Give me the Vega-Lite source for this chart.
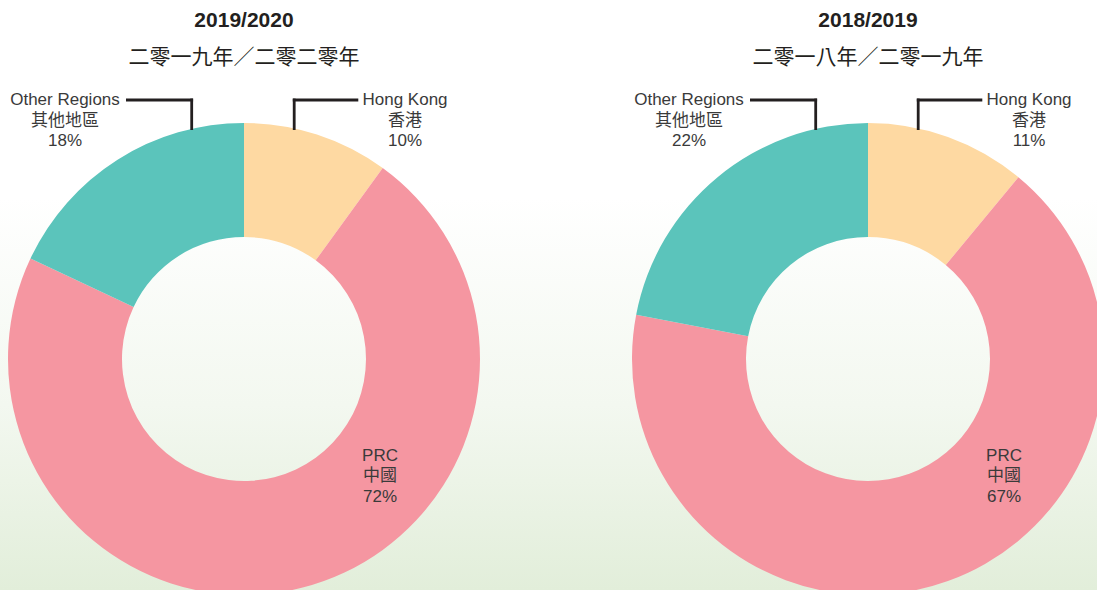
{
  "$schema": "https://vega.github.io/schema/vega-lite/v6.json",
  "autosize": "none",
  "width": 1097,
  "height": 462,
  "padding": {"left": 0, "right": 0, "top": 128, "bottom": 0},
  "background": "#ffffff",
  "config": {"view": {"stroke": null}, "text": {"font": "Liberation Sans, Noto Sans CJK TC", "align": "center", "baseline": "middle"}},
  "datasets": {
    "slices": [
      {"year": "2019/2020", "region": "Hong Kong", "region_zh": "香港", "share": 0.10, "order": 1},
      {"year": "2019/2020", "region": "PRC", "region_zh": "中國", "share": 0.72, "order": 2},
      {"year": "2019/2020", "region": "Other Regions", "region_zh": "其他地區", "share": 0.18, "order": 3},
      {"year": "2018/2019", "region": "Hong Kong", "region_zh": "香港", "share": 0.11, "order": 1},
      {"year": "2018/2019", "region": "PRC", "region_zh": "中國", "share": 0.67, "order": 2},
      {"year": "2018/2019", "region": "Other Regions", "region_zh": "其他地區", "share": 0.22, "order": 3}
    ],
    "years": [
      {"year": "2019/2020", "year_zh": "二零一九年／二零二零年"},
      {"year": "2018/2019", "year_zh": "二零一八年／二零一九年"}
    ]
  },
  "layer": [
    {
      "data": {"values": [{}]},
      "mark": {"type": "rect", "fill": {"gradient": "linear", "x1": 0, "y1": 0, "x2": 0, "y2": 1, "stops": [{"offset": 0, "color": "#ffffff"}, {"offset": 0.15, "color": "#ffffff"}, {"offset": 0.6, "color": "#f3f8f0"}, {"offset": 1, "color": "#e2eeda"}]}},
      "encoding": {}
    },
    {
      "data": {"name": "slices"},
      "transform": [{"stack": "share", "groupby": ["year"], "sort": [{"field": "order", "order": "ascending"}], "as": ["t0", "t1"]}],
      "mark": {"type": "arc", "innerRadius": 122, "outerRadius": 236},
      "encoding": {
        "x": {"field": "year", "type": "nominal", "scale": {"type": "point", "domain": ["2019/2020", "2018/2019"], "padding": 0.379006, "align": 0.515856}, "axis": null},
        "theta": {"field": "t0", "type": "quantitative", "scale": {"domain": [0, 1]}, "stack": null},
        "theta2": {"field": "t1"},
        "color": {"field": "region", "type": "nominal", "scale": {"domain": ["Hong Kong", "PRC", "Other Regions"], "range": ["#fed9a2", "#f596a1", "#5bc4bb"]}, "legend": null}
      }
    },
    {
      "data": {"name": "years"},
      "mark": {"type": "text", "fontSize": 21, "fontWeight": "bold", "color": "#231f20", "dy": -338},
      "encoding": {"x": {"field": "year", "type": "nominal"}, "text": {"field": "year"}}
    },
    {
      "data": {"name": "years"},
      "mark": {"type": "text", "fontSize": 21, "color": "#231f20", "dy": -301},
      "encoding": {"x": {"field": "year", "type": "nominal"}, "text": {"field": "year_zh"}}
    },
    {
      "data": {"name": "slices"},
      "transform": [{"filter": "datum.region === 'Other Regions'"}],
      "mark": {"type": "text", "fontSize": 17, "color": "#3a3a3a", "dx": -179, "dy": -259},
      "encoding": {"x": {"field": "year", "type": "nominal"}, "text": {"field": "region"}}
    },
    {
      "data": {"name": "slices"},
      "transform": [{"filter": "datum.region === 'Other Regions'"}],
      "mark": {"type": "text", "fontSize": 17, "color": "#3a3a3a", "dx": -179, "dy": -238.5},
      "encoding": {"x": {"field": "year", "type": "nominal"}, "text": {"field": "region_zh"}}
    },
    {
      "data": {"name": "slices"},
      "transform": [{"filter": "datum.region === 'Other Regions'"}],
      "mark": {"type": "text", "fontSize": 17, "color": "#3a3a3a", "dx": -179, "dy": -218},
      "encoding": {"x": {"field": "year", "type": "nominal"}, "text": {"field": "share", "type": "quantitative", "format": ".0%"}}
    },
    {
      "data": {"name": "slices"},
      "transform": [{"filter": "datum.region === 'Hong Kong'"}],
      "mark": {"type": "text", "fontSize": 17, "color": "#3a3a3a", "dx": 161, "dy": -259},
      "encoding": {"x": {"field": "year", "type": "nominal"}, "text": {"field": "region"}}
    },
    {
      "data": {"name": "slices"},
      "transform": [{"filter": "datum.region === 'Hong Kong'"}],
      "mark": {"type": "text", "fontSize": 17, "color": "#3a3a3a", "dx": 161, "dy": -238.5},
      "encoding": {"x": {"field": "year", "type": "nominal"}, "text": {"field": "region_zh"}}
    },
    {
      "data": {"name": "slices"},
      "transform": [{"filter": "datum.region === 'Hong Kong'"}],
      "mark": {"type": "text", "fontSize": 17, "color": "#3a3a3a", "dx": 161, "dy": -218},
      "encoding": {"x": {"field": "year", "type": "nominal"}, "text": {"field": "share", "type": "quantitative", "format": ".0%"}}
    },
    {
      "data": {"name": "slices"},
      "transform": [{"filter": "datum.region === 'PRC'"}],
      "mark": {"type": "text", "fontSize": 17, "color": "#3a3a3a", "dx": 136, "dy": 96.5},
      "encoding": {"x": {"field": "year", "type": "nominal"}, "text": {"field": "region"}}
    },
    {
      "data": {"name": "slices"},
      "transform": [{"filter": "datum.region === 'PRC'"}],
      "mark": {"type": "text", "fontSize": 17, "color": "#3a3a3a", "dx": 136, "dy": 117},
      "encoding": {"x": {"field": "year", "type": "nominal"}, "text": {"field": "region_zh"}}
    },
    {
      "data": {"name": "slices"},
      "transform": [{"filter": "datum.region === 'PRC'"}],
      "mark": {"type": "text", "fontSize": 17, "color": "#3a3a3a", "dx": 136, "dy": 137.5},
      "encoding": {"x": {"field": "year", "type": "nominal"}, "text": {"field": "share", "type": "quantitative", "format": ".0%"}}
    },
    {
      "data": {"name": "years"},
      "mark": {"type": "rule", "strokeWidth": 2.8, "color": "#231f20", "xOffset": -118, "x2Offset": -50.9, "yOffset": -259},
      "encoding": {"x": {"field": "year", "type": "nominal"}, "x2": {"field": "year"}}
    },
    {
      "data": {"name": "years"},
      "mark": {"type": "tick", "orient": "vertical", "thickness": 2.8, "size": 31.4, "opacity": 1, "color": "#231f20", "xOffset": -52.3, "yOffset": -244.7},
      "encoding": {"x": {"field": "year", "type": "nominal"}}
    },
    {
      "data": {"name": "years"},
      "mark": {"type": "rule", "strokeWidth": 2.8, "color": "#231f20", "xOffset": 48.8, "x2Offset": 114.3, "yOffset": -259},
      "encoding": {"x": {"field": "year", "type": "nominal"}, "x2": {"field": "year"}}
    },
    {
      "data": {"name": "years"},
      "mark": {"type": "tick", "orient": "vertical", "thickness": 2.8, "size": 31.4, "opacity": 1, "color": "#231f20", "xOffset": 50.2, "yOffset": -244.7},
      "encoding": {"x": {"field": "year", "type": "nominal"}}
    }
  ]
}
